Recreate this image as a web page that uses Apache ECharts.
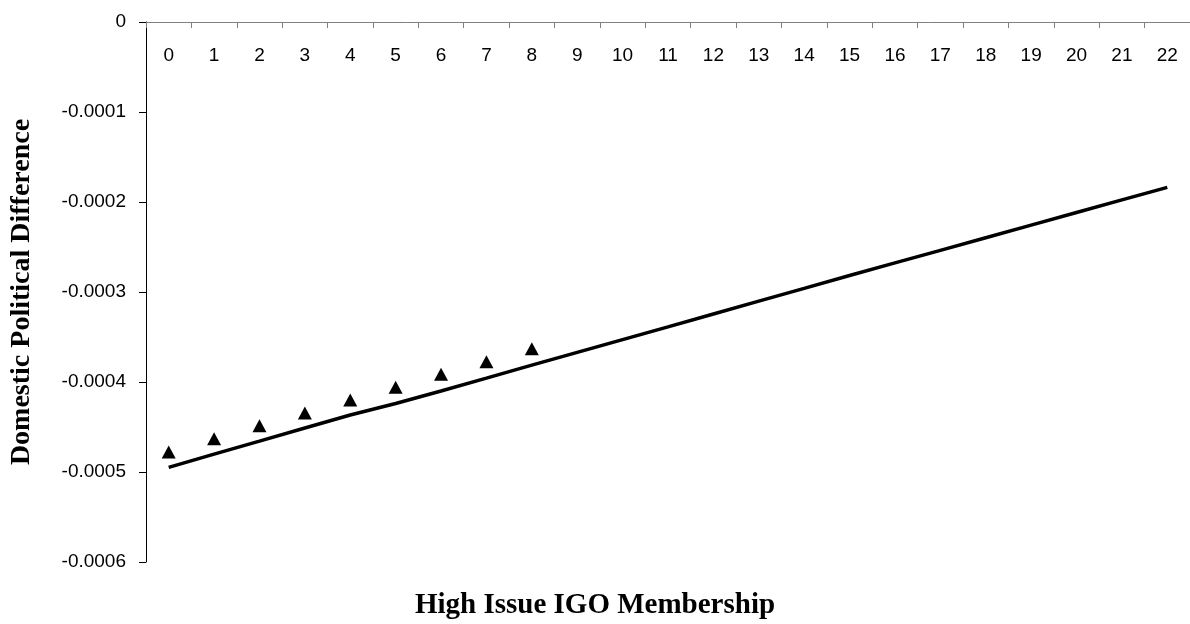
<!DOCTYPE html>
<html>
<head>
<meta charset="utf-8">
<script src="https://cdn.jsdelivr.net/npm/echarts@6/dist/echarts.min.js"></script>
<style>
  html, body { margin: 0; padding: 0; background: #ffffff; }
  #chart { width: 1190px; height: 624px; }
</style>
</head>
<body>
<div id="chart"></div>
<script>
// Number of high-issue IGO memberships (category axis)
const categories = ['0','1','2','3','4','5','6','7','8','9','10','11','12','13','14','15','16','17','18','19','20','21','22'];

// Predicted domestic political difference (solid line)
const predicted = [
  -0.0004948, -0.0004802, -0.0004657, -0.0004511, -0.0004367, -0.0004239,
  -0.0004100, -0.0003957, -0.0003813, -0.0003671, -0.0003529, -0.0003387,
  -0.0003244, -0.0003102, -0.0002960, -0.0002817, -0.0002677, -0.0002537,
  -0.0002397, -0.0002257, -0.0002117, -0.0001977, -0.0001837
];

// Observed points (triangles), memberships 0 through 8
const observed = [
  -0.0004778, -0.0004630, -0.0004486, -0.0004344, -0.0004200,
  -0.0004059, -0.0003915, -0.0003774, -0.0003630
];

// Value axis range and step
const yMin = -0.0006;
const yMax = 0;
const yStep = 0.0001;

const xTitle = 'High Issue IGO Membership';
const yTitle = 'Domestic Political Difference';

const sansFont = '"Liberation Sans", Arial, sans-serif';
const serifFont = '"Liberation Serif", "Times New Roman", serif';

const chart = echarts.init(document.getElementById('chart'), null, { renderer: 'canvas' });

chart.setOption({
  animation: false,
  backgroundColor: '#ffffff',
  grid: { left: 145, top: 22, right: 0, bottom: 62, containLabel: false },
  xAxis: {
    // the category axis sits on the zero line, which is the top edge of the plot
    type: 'category',
    data: categories,
    boundaryGap: true,
    position: 'top',
    axisLine: { show: true, onZero: false, lineStyle: { color: '#808080', width: 1 } },
    axisTick: { show: true, inside: true, length: 6, alignWithLabel: false, lineStyle: { color: '#808080', width: 1 } },
    axisLabel: { show: true, inside: true, margin: 24, color: '#000000', fontFamily: sansFont, fontSize: 19, interval: 0 },
    splitLine: { show: false }
  },
  yAxis: {
    type: 'value',
    min: yMin,
    max: yMax,
    interval: yStep,
    name: yTitle,
    nameLocation: 'middle',
    nameRotate: 90,
    nameGap: 110,
    nameTextStyle: { color: '#000000', fontFamily: serifFont, fontWeight: 'bold', fontSize: 28 },
    axisLine: { show: true, lineStyle: { color: '#000000', width: 1 } },
    axisTick: { show: true, inside: false, length: 7, lineStyle: { color: '#000000', width: 1 } },
    axisLabel: {
      margin: 20,
      color: '#000000',
      fontFamily: sansFont,
      fontSize: 19,
      formatter: function (v) { return Math.abs(v) < 1e-12 ? '0' : v.toFixed(4); }
    },
    splitLine: { show: false }
  },
  graphic: [
    {
      type: 'text',
      left: 'center',
      top: 591,
      style: {
        text: xTitle,
        fill: '#000000',
        font: 'bold 29px ' + serifFont
      }
    }
  ],
  series: [
    {
      name: 'Predicted',
      type: 'line',
      data: predicted,
      showSymbol: false,
      symbol: 'none',
      lineStyle: { color: '#000000', width: 3.5 },
      z: 2
    },
    {
      name: 'Observed',
      type: 'scatter',
      data: observed,
      symbol: 'triangle',
      symbolSize: [14, 13],
      itemStyle: { color: '#000000', opacity: 1 },
      z: 3
    }
  ]
});
</script>
</body>
</html>
